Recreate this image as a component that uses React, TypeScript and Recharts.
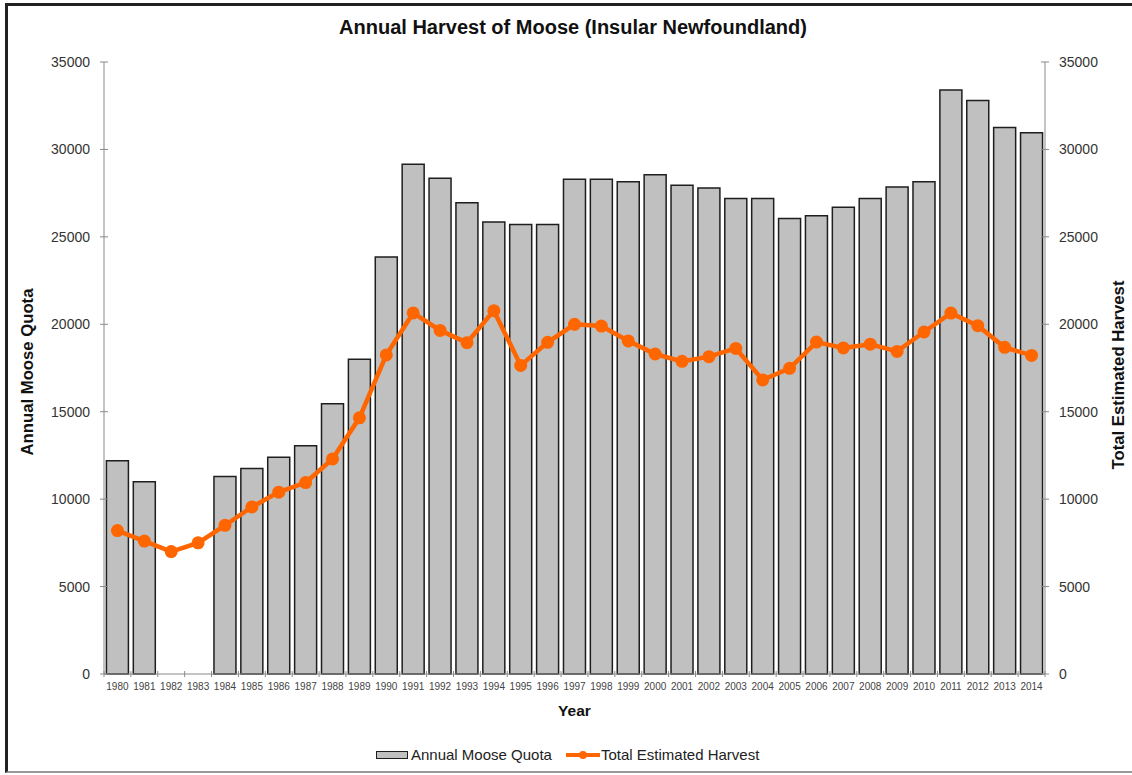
import { ComposedChart, Bar, Line, XAxis, YAxis } from "recharts";

const years = [
  "1980", "1981", "1982", "1983", "1984", "1985", "1986", "1987", "1988", "1989",
  "1990", "1991", "1992", "1993", "1994", "1995", "1996", "1997", "1998", "1999",
  "2000", "2001", "2002", "2003", "2004", "2005", "2006", "2007", "2008", "2009",
  "2010", "2011", "2012", "2013", "2014",
];

// no quota was set in 1982 and 1983
const quota = [
  12200, 11000, null, null, 11300, 11750, 12400, 13050, 15450, 18000,
  23850, 29150, 28350, 26950, 25850, 25700, 25700, 28300, 28300, 28150,
  28550, 27950, 27800, 27200, 27200, 26050, 26200, 26700, 27200, 27850,
  28150, 33400, 32800, 31250, 30950,
];

const harvest = [
  8200, 7600, 7000, 7500, 8500, 9550, 10400, 10950, 12300, 14650,
  18250, 20650, 19650, 18950, 20780, 17650, 18970, 20000, 19900, 19050,
  18300, 17880, 18150, 18620, 16820, 17480, 18980, 18650, 18860, 18450,
  19560, 20640, 19920, 18680, 18220,
];

const yTicks = [0, 5000, 10000, 15000, 20000, 25000, 30000, 35000];

const data = years.map((year, i) => ({ year, quota: quota[i], harvest: harvest[i] }));

const W = 1132;
const H = 775;
const PLOT_L = 104;
const PLOT_R = 1045;
const PLOT_T = 62;
const PLOT_B = 674;
const AXIS_W = 60;
const BAND = (PLOT_R - PLOT_L) / years.length;

const FONT = "'Liberation Sans', Arial, sans-serif";
const AXIS_C = "#8a8a8a";
const BAR_FILL = "#c0c0c0";
const BAR_LINE = "#1e1e1e";
const ORANGE = "#ff6600";

function XTick(props: any) {
  const { x, y, index, payload } = props;
  const left = x - BAND / 2;
  return (
    <g>
      <line x1={left} x2={left} y1={y - 3} y2={y + 3} stroke={AXIS_C} />
      {index === years.length - 1 && (
        <line x1={x + BAND / 2} x2={x + BAND / 2} y1={y - 3} y2={y + 3} stroke={AXIS_C} />
      )}
      <text x={x} y={y + 16} textAnchor="middle" fontSize={10} fill="#444" fontFamily={FONT}>
        {payload.value}
      </text>
    </g>
  );
}

function YTick(props: any) {
  const { x, y, payload, side } = props;
  const right = side === "right";
  return (
    <g>
      <line x1={x - 4} x2={x + 4} y1={y} y2={y} stroke={AXIS_C} />
      <text
        x={right ? x + 14 : x - 14}
        y={y + 5}
        textAnchor={right ? "start" : "end"}
        fontSize={14}
        fill="#333"
        fontFamily={FONT}
      >
        {payload.value}
      </text>
    </g>
  );
}

const abs = (style: React.CSSProperties): React.CSSProperties => ({
  position: "absolute",
  fontFamily: FONT,
  color: "#111",
  whiteSpace: "nowrap",
  ...style,
});

export default function App() {
  return (
    <div style={{ position: "absolute", left: 0, top: 0, width: W, height: H, background: "#fff" }}>
      <div
        style={{
          position: "absolute",
          left: 5,
          top: 3,
          width: W - 5,
          height: H - 5,
          borderTop: "3px solid #222",
          borderLeft: "3px solid #222",
          borderBottom: "2px solid #999",
          boxSizing: "border-box",
        }}
      />
      <ComposedChart
        width={W}
        height={H}
        data={data}
        margin={{
          top: PLOT_T,
          bottom: H - PLOT_B - 30,
          left: PLOT_L - AXIS_W,
          right: W - PLOT_R - AXIS_W,
        }}
        barCategoryGap="9%"
        style={{ position: "absolute", left: 0, top: 0 }}
      >
        <XAxis
          dataKey="year"
          height={30}
          stroke={AXIS_C}
          tickSize={0}
          tickMargin={0}
          interval={0}
          tick={<XTick />}
        />
        <YAxis
          yAxisId="left"
          width={AXIS_W}
          domain={[0, 35000]}
          ticks={yTicks}
          stroke={AXIS_C}
          tickSize={0}
          tickMargin={0}
          tick={<YTick side="left" />}
        />
        <YAxis
          yAxisId="right"
          orientation="right"
          width={AXIS_W}
          domain={[0, 35000]}
          ticks={yTicks}
          stroke={AXIS_C}
          tickSize={0}
          tickMargin={0}
          tick={<YTick side="right" />}
        />
        <Bar
          yAxisId="left"
          dataKey="quota"
          name="Annual Moose Quota"
          fill={BAR_FILL}
          stroke={BAR_LINE}
          strokeWidth={1.5}
          isAnimationActive={false}
        />
        <Line
          yAxisId="right"
          dataKey="harvest"
          name="Total Estimated Harvest"
          type="linear"
          stroke={ORANGE}
          strokeWidth={4.5}
          dot={{ r: 6.5, fill: ORANGE, stroke: ORANGE, strokeWidth: 0 }}
          isAnimationActive={false}
        />
      </ComposedChart>

      <div style={abs({ left: 0, width: 1146, top: 16, textAlign: "center", fontSize: 20, fontWeight: "bold" })}>
        Annual Harvest of Moose (Insular Newfoundland)
      </div>
      <div style={abs({ left: PLOT_L, width: PLOT_R - PLOT_L, top: 702, textAlign: "center", fontSize: 15.5, fontWeight: "bold" })}>
        Year
      </div>
      <div
        style={abs({
          left: 28,
          top: 372,
          fontSize: 16.7,
          fontWeight: "bold",
          transform: "translate(-50%, -50%) rotate(-90deg)",
        })}
      >
        Annual Moose Quota
      </div>
      <div
        style={abs({
          left: 1119,
          top: 375,
          fontSize: 16.7,
          fontWeight: "bold",
          transform: "translate(-50%, -50%) rotate(-90deg)",
        })}
      >
        Total Estimated Harvest
      </div>

      <div style={abs({ left: 376, top: 746, fontSize: 15, display: "flex", alignItems: "center", color: "#222" })}>
        <span
          style={{
            display: "inline-block",
            width: 32,
            height: 8,
            background: BAR_FILL,
            border: `1.5px solid ${BAR_LINE}`,
            boxSizing: "border-box",
            marginRight: 3,
          }}
        />
        <span>Annual Moose Quota</span>
        <svg width={34} height={12} style={{ marginLeft: 14, marginRight: 1 }}>
          <line x1={0} x2={34} y1={6} y2={6} stroke={ORANGE} strokeWidth={4} />
          <circle cx={17} cy={6} r={4} fill={ORANGE} />
        </svg>
        <span>Total Estimated Harvest</span>
      </div>
    </div>
  );
}
